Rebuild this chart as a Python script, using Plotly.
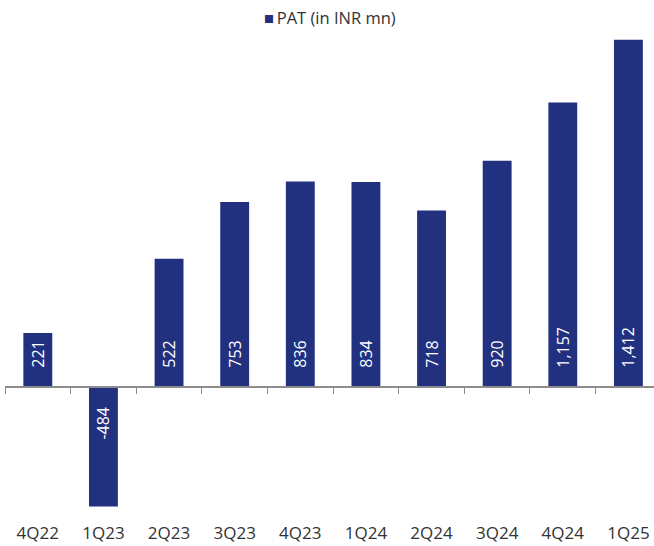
import plotly.graph_objects as go

quarters = ["4Q22", "1Q23", "2Q23", "3Q23", "4Q23", "1Q24", "2Q24", "3Q24", "4Q24", "1Q25"]
pat = [221, -484, 522, 753, 836, 834, 718, 920, 1157, 1412]
series_name = "PAT (in INR mn)"

NAVY = "#21307f"
y_lo, y_hi = -490, 1415
zero_pos = -y_lo / (y_hi - y_lo)

# labels sit a little away from the zero line, as in the source chart
pad = "\u00a0" * 4
pat_labels = [pad + f"{v:,}" if v >= 0 else f"{v:,}" + pad for v in pat]

fig = go.Figure()

fig.add_trace(go.Bar(
    x=quarters,
    y=pat,
    name=series_name,
    marker=dict(color=NAVY, line=dict(width=0)),
    text=pat_labels,
    textposition="inside",
    insidetextanchor="start",
    textangle=-90,
    textfont=dict(color="white", size=16, family="Open Sans"),
    showlegend=False,
))

# invisible helper trace so the label axis renders
fig.add_trace(go.Scatter(
    x=quarters, y=[0] * len(quarters), xaxis="x2", mode="markers",
    marker=dict(opacity=0), showlegend=False, hoverinfo="skip",
))

fig.update_layout(
    width=654,
    height=546,
    margin=dict(l=5, r=0, t=39, b=38),
    plot_bgcolor="white",
    paper_bgcolor="white",
    font=dict(family="Open Sans", size=16, color="#333333"),
    bargap=0.56,
    # category axis drawn at the zero line, ticks on boundaries
    xaxis=dict(
        type="category",
        categoryorder="array",
        categoryarray=quarters,
        range=[-0.5, 9.39],
        anchor="free",
        position=zero_pos,
        showline=True,
        linecolor="#8c8c8c",
        linewidth=1.5,
        ticks="outside",
        tickson="boundaries",
        ticklen=6,
        tickcolor="#8c8c8c",
        showticklabels=False,
        showgrid=False,
        zeroline=False,
    ),
    # labels kept at the bottom of the plot
    xaxis2=dict(
        type="category",
        categoryorder="array",
        categoryarray=quarters,
        matches="x",
        overlaying="x",
        anchor="y",
        side="bottom",
        showline=False,
        ticks="",
        showgrid=False,
        zeroline=False,
        ticklabelstandoff=13,
        tickfont=dict(size=17, color="#333333"),
    ),
    yaxis=dict(
        range=[y_lo, y_hi],
        visible=False,
        showgrid=False,
        zeroline=False,
    ),
)

# legend entry as a single centred line above the plot
fig.add_annotation(
    text=f"<span style='color:{NAVY}'>■</span>\u2009{series_name}",
    xref="paper", yref="paper",
    x=0.5, y=1.045,
    xanchor="center", yanchor="middle",
    showarrow=False,
    font=dict(size=16.5, color="#333333"),
)

fig.write_html(
    "out.html",
    config={"displayModeBar": False},
    post_script="document.body.style.margin='0';",
)
